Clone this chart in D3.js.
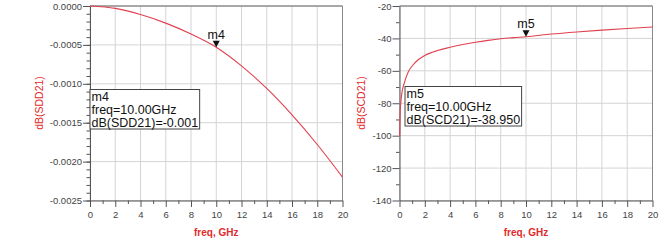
<!DOCTYPE html>
<html>
<head>
<meta charset="utf-8">
<script src="https://cdn.jsdelivr.net/npm/d3@7"></script>
<style>
  body { margin: 0; background: #fff; }
  svg { display: block; font-family: Arial, "Liberation Sans", sans-serif; }
  .tick text { fill: #444; font-size: 9.5px; }
  .domain, .tick line { stroke: #555; }
</style>
</head>
<body>
<div id="chart"></div>
<script>
// frequency sweep, GHz
var xTicks = [0, 2, 4, 6, 8, 10, 12, 14, 16, 18, 20];

// dB(SDD21)
var sddFreq = [0, 2, 4, 6, 8, 10, 12, 14, 16, 18, 20];
var sddDb = [0, -0.00003, -0.00011, -0.00022, -0.00036, -0.00053, -0.00077, -0.00106, -0.0014, -0.00178, -0.0022];
var sddTicks = [0, -0.0005, -0.001, -0.0015, -0.002, -0.0025];

// dB(SCD21)
var scdFreq = [0.01, 0.05, 0.1, 0.2, 0.3, 0.4, 0.5, 0.7, 1, 1.5, 2, 3, 4, 5, 6, 7, 8, 9, 10, 12, 14, 16, 18, 20];
var scdDb = [-100, -86, -80, -73, -69.5, -67, -64.5, -60.5, -57, -53, -50.5, -47.5, -45.5, -43.8, -42.4, -41.2, -40.2, -39.5, -38.95, -37.3, -36, -34.9, -33.9, -33];
var scdTicks = [-20, -40, -60, -80, -100, -120, -140];

// markers
var markerNames = ["m4", "m5"];
var markerFreq = [10, 10];
var markerVal = [-0.00053, -38.95];
var markerText = [
  ["m4", "freq=10.00GHz", "dB(SDD21)=-0.001"],
  ["m5", "freq=10.00GHz", "dB(SCD21)=-38.950"]
];

var width = 671, height = 250;
var lineColor = "#e0404e", titleColor = "#e02a2a";

var svg = d3.select("#chart").append("svg")
  .attr("width", width)
  .attr("height", height);

function drawChart(o) {
  var x = d3.scaleLinear().domain([0, 20]).range([o.left, o.right]);
  var y = d3.scaleLinear().domain(o.yDomain).range([200.5, 6]);
  var g = svg.append("g");

  // grid
  g.selectAll(".vg").data(xTicks).enter().append("line")
    .attr("x1", d => x(d)).attr("x2", d => x(d))
    .attr("y1", y.range()[0]).attr("y2", y.range()[1])
    .attr("stroke", "#d4d4d8").attr("stroke-width", 1);
  g.selectAll(".hg").data(o.yTicks).enter().append("line")
    .attr("x1", o.left).attr("x2", o.right)
    .attr("y1", d => y(d)).attr("y2", d => y(d))
    .attr("stroke", "#d4d4d8").attr("stroke-width", 1);

  // frame top / right
  g.append("line").attr("x1", o.left).attr("x2", o.right).attr("y1", 6).attr("y2", 6).attr("stroke", "#666");
  g.append("line").attr("x1", o.right).attr("x2", o.right).attr("y1", 6).attr("y2", 200.5).attr("stroke", "#888");

  // minor ticks
  g.append("g").attr("transform", "translate(0,200.5)")
    .call(d3.axisBottom(x).tickValues(d3.range(1, 20, 2)).tickSize(3.5).tickFormat(""))
    .call(a => a.select(".domain").remove());
  g.append("g").attr("transform", "translate(" + o.left + ",0)")
    .call(d3.axisLeft(y).tickValues(o.yMinor).tickSize(3.5).tickFormat(""))
    .call(a => a.select(".domain").remove());

  // major axes
  g.append("g").attr("transform", "translate(0,200.5)")
    .call(d3.axisBottom(x).tickValues(xTicks).tickSize(6.5).tickSizeOuter(0).tickPadding(4).tickFormat(d => String(d)));
  g.append("g").attr("transform", "translate(" + o.left + ",0)")
    .call(d3.axisLeft(y).tickValues(o.yTicks).tickSize(7).tickSizeOuter(0).tickPadding(1).tickFormat(o.fmt));

  // axis titles
  g.append("text")
    .attr("transform", "translate(" + o.titleX + ",103) rotate(-90)")
    .attr("text-anchor", "middle")
    .attr("fill", titleColor).attr("font-size", "10.5px")
    .text(o.yTitle);
  g.append("text")
    .attr("x", x(10)).attr("y", 236)
    .attr("text-anchor", "middle")
    .attr("fill", titleColor).attr("font-size", "10px").attr("font-weight", "bold")
    .text("freq, GHz");

  // curve
  var line = d3.line()
    .x(d => x(d[0])).y(d => y(d[1]))
    .curve(d3.curveMonotoneX);
  g.append("path")
    .datum(d3.zip(o.freq, o.vals))
    .attr("d", line)
    .attr("fill", "none")
    .attr("stroke", lineColor)
    .attr("stroke-width", 1.1);

  // marker triangle + name
  var mi = o.marker;
  var mx = x(markerFreq[mi]), my = y(markerVal[mi]);
  g.append("path")
    .attr("d", "M" + (mx - 3.5) + "," + (my - 6.5) + "L" + (mx + 3.5) + "," + (my - 6.5) + "L" + mx + "," + my + "Z")
    .attr("fill", "#111");
  g.append("text")
    .attr("x", mx).attr("y", my - 8.5)
    .attr("text-anchor", "middle")
    .attr("font-size", "12.5px").attr("fill", "#111")
    .text(markerNames[mi]);

  // marker readout box
  var box = g.append("g");
  var rect = box.append("rect")
    .attr("x", o.boxX).attr("y", o.boxY)
    .attr("height", 39.5)
    .attr("fill", "#fff").attr("stroke", "#444").attr("stroke-width", 1);
  var maxW = 0;
  markerText[mi].forEach(function(t, i) {
    var tx = box.append("text")
      .attr("x", o.boxX + 1.5).attr("y", o.boxY + 11 + i * 13)
      .attr("font-size", "12.5px").attr("fill", "#111")
      .text(t);
    maxW = Math.max(maxW, tx.node().getComputedTextLength());
  });
  rect.attr("width", maxW + 3);
}

drawChart({
  left: 90, right: 342.5,
  yDomain: [-0.0025, 0],
  yTicks: sddTicks,
  yMinor: d3.range(-25, 1).map(d => d / 10000),
  fmt: d => d.toFixed(4),
  yTitle: "dB(SDD21)",
  titleX: 43,
  freq: sddFreq, vals: sddDb,
  marker: 0,
  boxX: 90, boxY: 89.5
});

drawChart({
  left: 399.5, right: 652.5,
  yDomain: [-140, -20],
  yTicks: scdTicks,
  yMinor: d3.range(-130, -20, 20),
  fmt: d => String(d),
  yTitle: "dB(SCD21)",
  titleX: 365,
  freq: scdFreq, vals: scdDb,
  marker: 1,
  boxX: 405, boxY: 86.5
});
</script>
</body>
</html>
